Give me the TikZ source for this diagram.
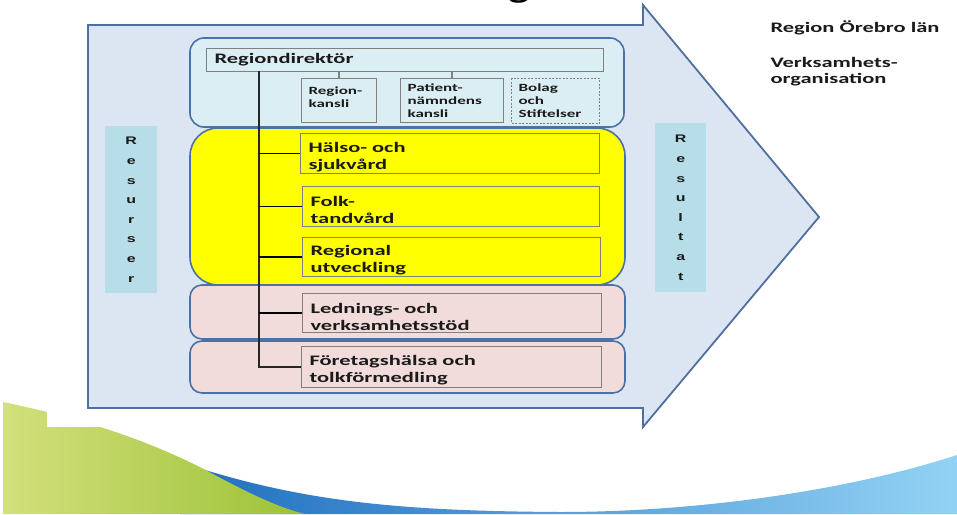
\documentclass[tikz,border=0pt]{standalone}
\usepackage{fontspec}
\newfontfamily\calfont[FakeStretch=1.55]{Carlito}
\newfontfamily\arifont[FakeStretch=1.45]{Liberation Sans}
\newcommand\tstrut{\rule{0pt}{17pt}}
\definecolor{arrowfill}{HTML}{DCE6F2}
\definecolor{arrowline}{HTML}{4F6FA0}
\definecolor{panelline}{HTML}{4A72A6}
\definecolor{topfill}{HTML}{DAEEF3}
\definecolor{yel}{HTML}{FFFF00}
\definecolor{pink}{HTML}{F2DCDB}
\definecolor{boxgrey}{HTML}{808080}
\definecolor{resfill}{HTML}{B7DDE8}
\definecolor{swbL}{HTML}{1F6EC0}
\definecolor{swbR}{HTML}{92D2F4}
\definecolor{swgL}{HTML}{D3E07C}
\definecolor{swgR}{HTML}{9CC236}
\definecolor{txt}{HTML}{1A1A1A}
\tikzset{
  panel/.style={draw=panelline, line width=1.6pt, fill=#1},
  ob/.style={draw=boxgrey, line width=1.1pt, fill=#1, inner xsep=8pt, inner ysep=0pt,
    align=left, anchor=north west, text=txt, font=\calfont\bfseries\fontsize{14.5}{17}\selectfont},
  sb/.style={draw=boxgrey, line width=1.1pt, fill=topfill, inner xsep=7pt, inner ysep=0pt,
    align=left, anchor=north west, text=txt, font=\calfont\bfseries\fontsize{11}{13}\selectfont},
  resbox/.style={fill=resfill, inner sep=0pt, align=center, text=txt,
    font=\arifont\bfseries\fontsize{11}{19.6}\selectfont},
  conn/.style={draw=black, line width=1.2pt},
  trunk/.style={draw=black!85, line width=1.7pt},
  side/.style={text=txt, anchor=base west, align=left,
    font=\calfont\bfseries\fontsize{14.5}{15.7}\selectfont}
}
\begin{document}
\begin{tikzpicture}[x=1pt,y=-1pt]
\useasboundingbox (0,0) rectangle (957,514);
\fill[white] (0,0) rectangle (957,514);
% bottom swooshes
\shade[left color=swbL, right color=swbR] (180,462) .. controls (300,502) and (400,511) .. (560,512)
  .. controls (700,512) and (850,490) .. (957,455) -- (957,514) -- (180,514) -- cycle;
\shade[left color=swgL, right color=swgR] (3,402) .. controls (80,418) and (150,440) .. (213,474)
  .. controls (250,494) and (280,508) .. (305,514) -- (3,514) -- cycle;
\fill[white] (47,0) rectangle (957,427);
% cut-off title glyph
\node[anchor=south, inner sep=0pt, text=black, font=\calfont\bfseries\fontsize{28}{28}\selectfont] (ttl) at (519,3) {g};
% big arrow
\draw[draw=arrowline, line width=1.8pt, fill=arrowfill, line join=miter]
  (88,25) -- (643,25) -- (643,5) -- (819,217) -- (643,427) -- (643,408) -- (88,408) -- cycle;
% panels
\draw[panel=topfill, rounded corners=14pt] (190,38) rectangle (624,127);
\draw[panel=yel, rounded corners=28pt] (190,128) rectangle (625,285);
\draw[panel=pink, rounded corners=12pt] (190,285) rectangle (625,339);
\draw[panel=pink, rounded corners=12pt] (190,341) rectangle (625,393);
% top boxes
\node[ob=topfill, minimum width=397pt, text width=381pt, minimum height=23pt] (rd) at (206,48) {Regiondirektör};
\node[sb, minimum width=75pt, text width=61pt, minimum height=44pt] (rk) at (301,78) {Region-\\kansli\\[-6pt]\mbox{}};
\node[sb, minimum width=103pt, text width=89pt, minimum height=44pt] (pn) at (400,78) {Patient-\\nämndens\\kansli};
\node[sb, dashed, dash pattern=on 2pt off 1.5pt, minimum width=88pt, text width=74pt, minimum height=45pt] (bs) at (511,78) {Bolag\\och\\Stiftelser};
\draw[conn, draw=boxgrey, line width=1.6pt] (rk.north) -- (rk.north |- rd.south);
\draw[conn, draw=boxgrey, line width=1.6pt] (pn.north) -- (pn.north |- rd.south);
% unit boxes
\node[ob=yel, minimum width=299pt, text width=283pt, minimum height=40pt] (hs) at (300,133) {\tstrut Hälso- och\\sjukvård};
\node[ob=yel, minimum width=297pt, text width=281pt, minimum height=40pt] (ft) at (302,186) {\tstrut Folk-\\tandvård};
\node[ob=yel, minimum width=298pt, text width=282pt, minimum height=39pt] (ru) at (302,237) {\tstrut Regional\\utveckling};
\node[ob=pink, minimum width=299pt, text width=283pt, minimum height=39pt] (lv) at (302,293) {\tstrut Lednings- och\\verksamhetsstöd};
\node[ob=pink, minimum width=300pt, text width=284pt, minimum height=41pt] (fh) at (301,346) {\tstrut Företagshälsa och\\tolkförmedling};
% side bars
\node[resbox, minimum width=52pt, minimum height=167pt, anchor=north west] (res) at (105,126) {R\\e\\s\\u\\r\\s\\e\\r};
\node[resbox, minimum width=51pt, minimum height=169pt, anchor=north west] (rst) at (655,123) {R\\e\\s\\u\\l\\t\\a\\t};
% trunk and branches
\coordinate (vtop) at (259,71);
\draw[trunk] (vtop) |- (fh.west);
\draw[conn] (hs.west) -- (hs.west -| vtop);
\draw[conn] (ft.west) -- (ft.west -| vtop);
\draw[conn] (ru.west) -- (ru.west -| vtop);
\draw[conn] (lv.west) -- (lv.west -| vtop);
% right texts
\node[side] (reg) at (767,32) {Region Örebro län};
\node[side] (vo) at (767,83) {Verksamhets-\\organisation};
\end{tikzpicture}
\end{document}
